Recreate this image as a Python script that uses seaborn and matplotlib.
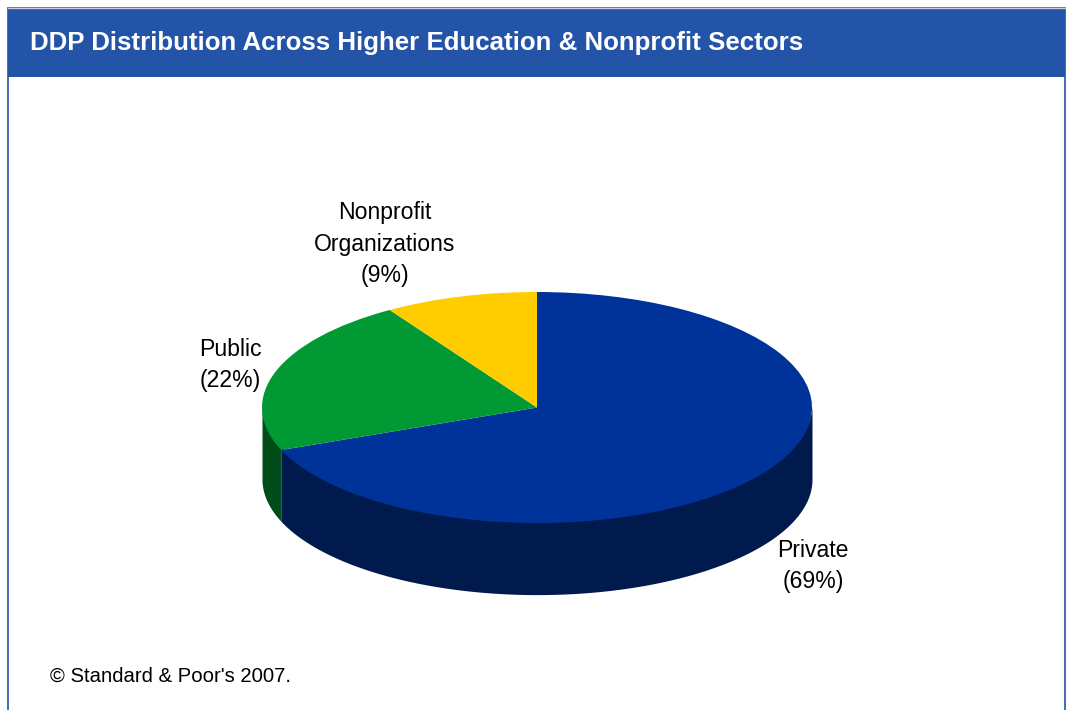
import numpy as np
import matplotlib
matplotlib.use("Agg")
import matplotlib.pyplot as plt
import seaborn as sns

# ---- data ----
categories = ["Private", "Public", "Nonprofit\nOrganizations"]
shares = [69, 22, 9]
top_colors = ["#003399", "#009933", "#FFCC00"]
side_colors = ["#001A4D", "#004D1A", "#806600"]
title = "DDP Distribution Across Higher Education & Nonprofit Sectors"
source = "\u00a9 Standard & Poor's 2007."

sns.set_theme(style="white")
plt.rcParams["font.family"] = ["Liberation Sans", "DejaVu Sans"]

W, H = 1066, 710
fig = plt.figure(figsize=(W / 100, H / 100), dpi=100)

# overlay axes in pixel coordinates
ov = fig.add_axes([0, 0, 1, 1])
ov.set_xlim(0, W)
ov.set_ylim(H, 0)
ov.axis("off")

# panel frame and title bar
ov.add_patch(plt.Rectangle((7.5, 8), 1057, 720, facecolor="white",
                           edgecolor="#2454A8", lw=1.2, zorder=0))
ov.add_patch(plt.Rectangle((7.5, 8), 1057, 69, facecolor="#2454A8",
                           edgecolor="none", zorder=1))
ov.plot([7.5, 1064.5], [8, 8], color="#C8CCD8", lw=1, zorder=2)
ov.text(30, 43, title, color="white", fontsize=18.6, fontweight="bold",
        va="center", ha="left", zorder=3)
ov.text(50, 676, source, color="black", fontsize=14.6, va="center", ha="left")

# ---- 3D-looking pie ----
depth = 0.62  # in ellipse-radius units (vertical)
x0, x1 = 262, 812
y_top, y_bot = 292, 523
ybot_px = y_bot + depth * (y_bot - y_top) / 2
pax = fig.add_axes([x0 / W, 1 - ybot_px / H, (x1 - x0) / W, (ybot_px - y_top) / H])

fr = np.array(shares, dtype=float) / sum(shares)
# clockwise from 90 degrees: wedge i covers ccw angles [90 - 360*cum_i, 90 - 360*cum_{i-1}]
cum = np.concatenate([[0], np.cumsum(fr)])
for i in range(len(shares)):
    a_hi = 90 - 360 * cum[i]
    a_lo = 90 - 360 * cum[i + 1]
    shift = np.floor(a_lo / 360) * 360
    lo, hi = a_lo - shift, a_hi - shift
    for base in (0, 360):
        s = max(lo, 180 + base)
        e = min(hi, 360 + base)
        if e > s:
            t = np.radians(np.linspace(s, e, 200))
            xs = np.cos(t)
            ys = np.sin(t)
            pax.fill_between(xs, ys + 0.03, ys - depth, color=side_colors[i], lw=0, zorder=1)

wedges, _ = pax.pie(shares, colors=top_colors, startangle=90, counterclock=False,
                    radius=1, wedgeprops=dict(linewidth=0, zorder=2))
for w in wedges:
    w.set_zorder(2)
pax.set_aspect("auto")
pax.set_xlim(-1, 1)
pax.set_ylim(-1 - depth, 1)
pax.axis("off")

# ---- labels ----
lab_kw = dict(fontsize=16.6, ha="center", va="center", linespacing=1.48, color="black")
ov.text(813, 566, f"{categories[0]}\n({shares[0]}%)", **lab_kw)
ov.text(230, 365, f"{categories[1]}\n({shares[1]}%)", **lab_kw)
ov.text(385, 244, f"{categories[2]}\n({shares[2]}%)", **lab_kw)

fig.savefig("out.png", dpi=100)
